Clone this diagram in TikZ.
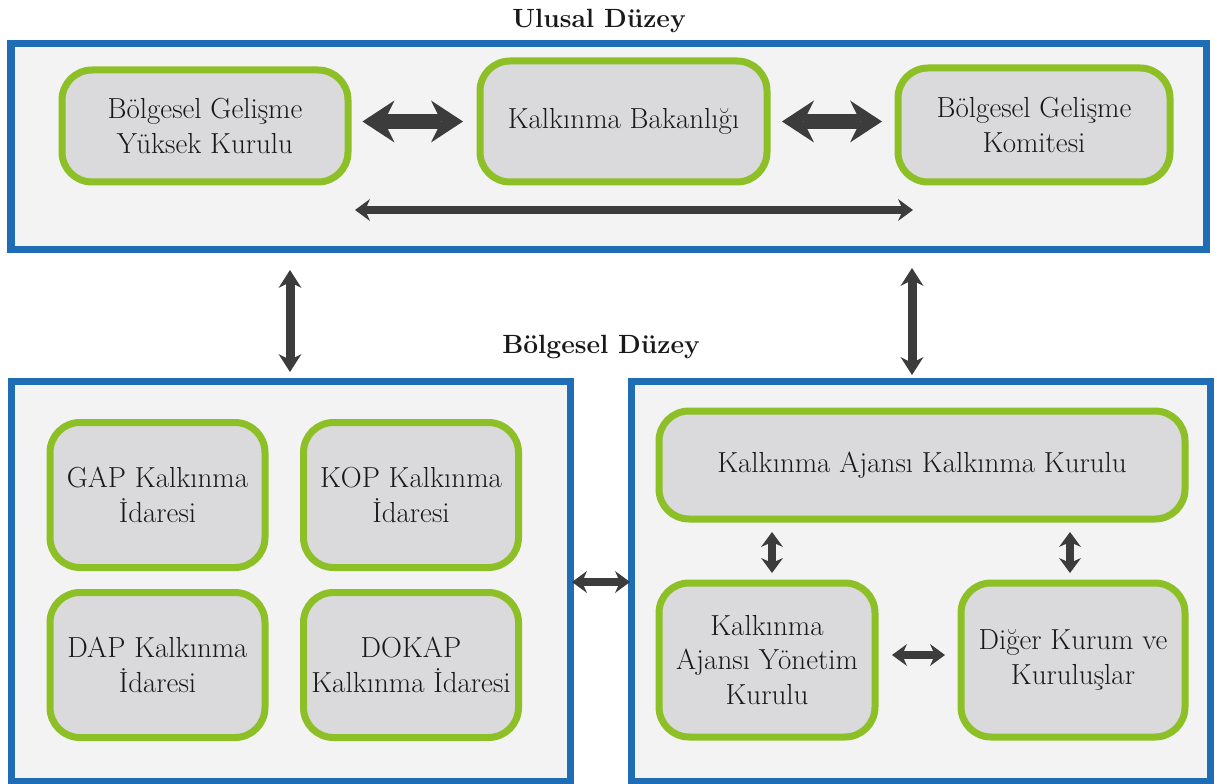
\documentclass[tikz,border=0pt]{standalone}
\usepackage{fontspec}
\usetikzlibrary{arrows.meta,calc}
\definecolor{levelblue}{HTML}{1F6DB4}
\definecolor{boxgreen}{HTML}{8DBF26}
\definecolor{boxgray}{HTML}{DAD9DB}
\definecolor{panelgray}{HTML}{F3F3F3}
\definecolor{arrowgray}{HTML}{3C3C3C}
\tikzstyle{level} = [rectangle, draw=levelblue, line width=0.14cm, fill=panelgray, inner sep=0pt]
\tikzstyle{unitbox} = [rectangle, rounded corners=0.6cm, draw=boxgreen, line width=0.14cm, fill=boxgray, align=center, inner sep=0.1cm, text=black!90, font=\fontsize{16.5}{19.8}\selectfont]
\tikzstyle{title} = [text=black!90, font=\fontsize{15}{18}\selectfont\bfseries]
\tikzstyle{bigarrow} = [draw=arrowgray, line width=0.3cm, <->, >={Stealth[length=0.64cm,width=0.84cm,line width=0pt]}]
\tikzstyle{levelarrow} = [draw=arrowgray, line width=0.18cm, <->, >={Stealth[length=0.36cm,width=0.46cm,line width=0pt]}]
\tikzstyle{arrow} = [draw=arrowgray, line width=0.16cm, <->, >={Stealth[length=0.3cm,width=0.44cm,line width=0pt]}]
\begin{document}
\begin{tikzpicture}
    \useasboundingbox[fill=white] (0,0) rectangle (24.34,-15.68);
    % levels
    \node (t1)[title] at (11.98,-0.42) {Ulusal Düzey};
    \node (ulusal)[level, minimum width=23.9cm, minimum height=4.1cm] at (12.17,-2.93) {};
    \node (t2)[title] at (12.02,-6.94) {Bölgesel Düzey};
    \node (idare)[level, minimum width=11.18cm, minimum height=8cm] at (5.81,-11.62) {};
    \node (ajans)[level, minimum width=11.58cm, minimum height=8cm] at (18.41,-11.62) {};
    % ulusal duzey
    \node (bgyk)[unitbox, minimum width=5.72cm, minimum height=2.24cm] at (4.10,-2.52) {Bölgesel Gelişme\\Yüksek Kurulu};
    \node (bakanlik)[unitbox, minimum width=5.74cm, minimum height=2.42cm] at (12.47,-2.43) {Kalkınma Bakanlığı};
    \node (bgk)[unitbox, minimum width=5.44cm, minimum height=2.28cm] at (20.68,-2.50) {Bölgesel Gelişme\\Komitesi};
    % bolgesel duzey
    \node (gap)[unitbox, minimum width=4.3cm, minimum height=2.9cm] at (3.15,-9.90) {GAP Kalkınma\\İdaresi};
    \node (kop)[unitbox, minimum width=4.3cm, minimum height=2.9cm] at (8.22,-9.90) {KOP Kalkınma\\İdaresi};
    \node (dap)[unitbox, minimum width=4.3cm, minimum height=2.9cm] at (3.15,-13.30) {DAP Kalkınma\\İdaresi};
    \node (dokap)[unitbox, minimum width=4.3cm, minimum height=2.9cm] at (8.22,-13.30) {DOKAP\\Kalkınma İdaresi};
    \node (kurul)[unitbox, minimum width=10.52cm, minimum height=2.16cm] at (18.44,-9.30) {Kalkınma Ajansı Kalkınma Kurulu};
    \node (yonetim)[unitbox, minimum width=4.32cm, minimum height=3.08cm] at (15.34,-13.20) {Kalkınma\\Ajansı Yönetim\\Kurulu};
    \node (diger)[unitbox, minimum width=4.48cm, minimum height=3.08cm] at (21.46,-13.20) {Diğer Kurum ve\\Kuruluşlar};
    % helper points
    \coordinate (la) at (7.10,-4.20);
    \coordinate (lb) at (18.26,-4.20);
    \coordinate (v1) at (5.80,-6);
    \coordinate (v2) at (18.24,-6);
    \coordinate (m) at (12,-11.64);
    % arrows
    \draw [bigarrow, shorten <=0.22cm, shorten >=0.27cm](bgyk.east |- bakanlik)--(bakanlik.west);
    \draw [bigarrow, shorten <=0.23cm, shorten >=0.25cm](bakanlik.east)--(bgk.west |- bakanlik);
    \draw [arrow](la)--(lb);
    \draw [levelarrow, shorten <=0.35cm, shorten >=0.11cm](ulusal.south -| v1)--(idare.north -| v1);
    \draw [levelarrow, shorten <=0.31cm, shorten >=0.05cm](ulusal.south -| v2)--(ajans.north -| v2);
    \draw [arrow, shorten <=-0.03cm, shorten >=-0.05cm](idare.east |- m)--(ajans.west |- m);
    \draw [arrow, shorten <=0.13cm, shorten >=0.19cm]([xshift=0.1cm]yonetim.north)--([xshift=0.1cm]yonetim.north |- kurul.south);
    \draw [arrow, shorten <=0.13cm, shorten >=0.19cm]([xshift=-0.06cm]diger.north)--([xshift=-0.06cm]diger.north |- kurul.south);
    \draw [arrow, shorten <=0.27cm, shorten >=0.25cm]([yshift=0.1cm]yonetim.east)--([yshift=0.1cm]diger.west);
\end{tikzpicture}
\end{document}
